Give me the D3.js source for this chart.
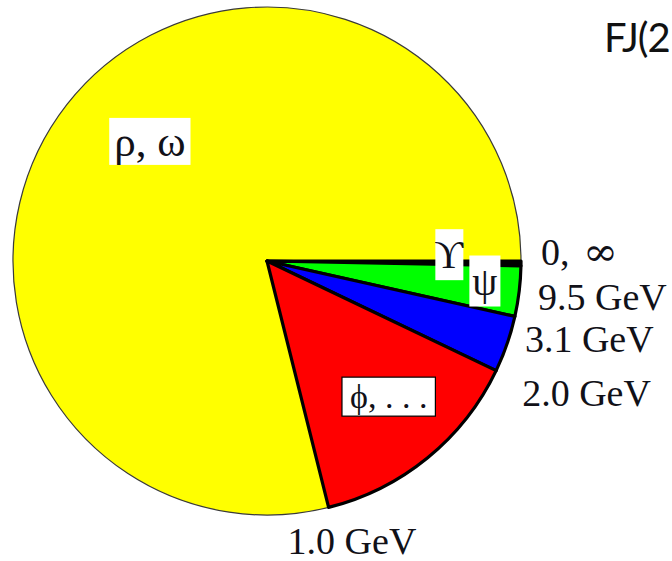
<!DOCTYPE html>
<html>
<head>
<meta charset="utf-8">
<script src="https://cdn.jsdelivr.net/npm/d3@7"></script>
<style>
  html, body { margin: 0; padding: 0; background: #fff; }
  svg { display: block; }
</style>
</head>
<body>
<svg id="chart" width="672" height="561"></svg>
<script>
// Slices, in clockwise order starting at 3 o'clock
const sliceNames   = ["ϒ", "ψ", "2.0–3.1 GeV", "ϕ, . . .", "ρ, ω"];
const sliceShares  = [0.3, 3.2, 3.6, 14.0, 78.9];   // percent of the full circle
const sliceColors  = ["#000000", "#00ff00", "#0000ff", "#ff0000", "#ffff00"];
const sliceLabeled = [true, true, false, true, true];
// Mass values at the slice boundaries (first boundary at 3 o'clock)
const boundaryLabels = ["0, ∞", "9.5 GeV", "3.1 GeV", "2.0 GeV", "1.0 GeV"];
const cornerText = "FJ(2";

const svg = d3.select("#chart");
const cx = 267, cy = 261, R = 254;
const serif = "'Liberation Serif', 'DejaVu Serif', serif";
const ink = "#111118";

const data = sliceNames.map((name, i) => ({
  name, value: sliceShares[i], color: sliceColors[i], labeled: sliceLabeled[i], i
}));

const pie = d3.pie()
  .value(d => d.value)
  .sort(null)
  .startAngle(Math.PI / 2)
  .endAngle(Math.PI / 2 + 2 * Math.PI);
const arcs = pie(data);

const arc = d3.arc().innerRadius(0).outerRadius(R);
const g = svg.append("g").attr("transform", `translate(${cx},${cy})`);

// Large slice first with a hairline edge, small slices on top with heavy edges
const order = [4, 0, 1, 2, 3];
g.selectAll("path.slice")
  .data(order.map(k => arcs[k]))
  .join("path")
  .attr("class", "slice")
  .attr("d", arc)
  .attr("fill", d => d.data.color)
  .attr("stroke", d => d.data.i === 4 ? "#3a3a3a" : "#000")
  .attr("stroke-width", d => d.data.i === 4 ? 1.2 : 3.2)
  .attr("stroke-linejoin", "round");

// Point on the rim for a d3 arc angle
const rim = (a, r) => [Math.sin(a) * r, -Math.cos(a) * r];

// Boundary labels, set just outside the rim
const boundaryAngles = arcs.map(a => a.startAngle);
const boundaryNudge = [[20, 4], [17, 44], [10, 36], [26, 35], [-41, 47]];
g.selectAll("text.boundary")
  .data(boundaryLabels)
  .join("text")
  .attr("class", "boundary")
  .attr("x", (d, i) => rim(boundaryAngles[i], R)[0] + boundaryNudge[i][0])
  .attr("y", (d, i) => rim(boundaryAngles[i], R)[1] + boundaryNudge[i][1])
  .attr("font-family", serif)
  .attr("font-size", 38)
  .attr("fill", ink)
  .each(function (d) {
    // the infinity sign is drawn wide and flat
    const t = d3.select(this);
    d.split(/(∞)/).filter(s => s).forEach(s => {
      const sp = t.append("tspan").text(s);
      if (s === "∞") {
        sp.attr("font-family", "'DejaVu Serif', serif").attr("font-size", 38)
          .attr("dx", 4)
          .attr("textLength", 35).attr("lengthAdjust", "spacingAndGlyphs");
      }
    });
  });

// Slice name tags on white boxes
const tagLayout = {
  0: { r: 0.70, dx: 4, dy: -8, size: 40, pad: [-1, 3], border: false },
  1: { r: 0.86, dx: 1, dy: -6, size: 40, pad: [3, 3], border: false },
  3: { r: 0.72, dx: 6, dy: -6, size: 34, pad: [8, 1], border: true },
  4: { r: 0.65, dx: 13, dy: -18, size: 43, pad: [5, 0], border: false }
};
arcs.filter(a => a.data.labeled).forEach(a => {
  const L = tagLayout[a.data.i];
  const mid = (a.startAngle + a.endAngle) / 2;
  const [px, py] = rim(mid, R * L.r);
  const tag = g.append("g").attr("transform", `translate(${px + L.dx},${py + L.dy})`);
  const box = tag.append("rect").attr("fill", "#fff")
    .attr("stroke", L.border ? "#000" : "none").attr("stroke-width", 1.2);
  const t = tag.append("text")
    .attr("text-anchor", "middle")
    .attr("dominant-baseline", "central")
    .attr("font-family", serif)
    .attr("font-size", L.size)
    .attr("fill", ink)
    .text(a.data.name);
  const bb = t.node().getBBox();
  box.attr("x", bb.x - L.pad[0]).attr("y", bb.y - L.pad[1])
     .attr("width", bb.width + 2 * L.pad[0]).attr("height", bb.height + 2 * L.pad[1]);
});

// Corner caption
svg.append("text")
  .attr("x", 604).attr("y", 52)
  .attr("font-family", "Lato, 'Noto Sans', sans-serif")
  .attr("font-size", 40)
  .attr("letter-spacing", -1)
  .attr("fill", "#111")
  .text(cornerText);
</script>
</body>
</html>
